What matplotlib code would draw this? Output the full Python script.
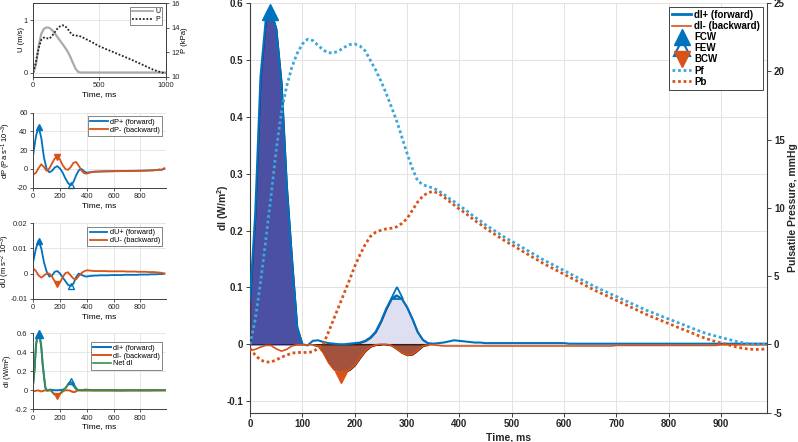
import numpy as np
import matplotlib
matplotlib.use('Agg')
import matplotlib.pyplot as plt
from matplotlib.lines import Line2D

plt.rcParams['font.family'] = ['Liberation Sans', 'DejaVu Sans']
plt.rcParams['mathtext.default'] = 'regular'
plt.rcParams['axes.unicode_minus'] = False

# ---------------- data ----------------
# main panel, sampled every 10 ms
t_main = np.arange(0, 1000, 10)
dI_fwd = np.array([
    0.08, 0.23, 0.47, 0.57, 0.585, 0.555, 0.46, 0.28, 0.15, 0.03,
    0.0, -0.002, 0.006, 0.007, 0.004, 0.002, 0.001, 0.0, 0.0, 0.001,
    0.002, 0.003, 0.006, 0.012, 0.022, 0.040, 0.062, 0.080, 0.086, 0.080,
    0.065, 0.045, 0.022, 0.008, 0.002, 0.001, 0.002, 0.003, 0.005, 0.007,
    0.006, 0.005, 0.004, 0.003, 0.003, 0.002, 0.002, 0.002, 0.002, 0.002,
    0.002, 0.002, 0.002, 0.002, 0.002, 0.002, 0.002, 0.002, 0.002, 0.002,
    0.002, 0.001, 0.001, 0.001, 0.001, 0.001, 0.001, 0.001, 0.001, 0.001,
    0.001, 0.001, 0.001, 0.001, 0.001, 0.001, 0.001, 0.001, 0.001, 0.001,
    0.001, 0.001, 0.001, 0.001, 0.001, 0.001, 0.001, 0.001, 0.001, 0.001,
    0.001, 0.001, 0.001, 0.001, 0.001, 0.001, 0.001, 0.001, 0.001, 0.001])
dI_bwd = np.array([
    -0.011, -0.009, -0.005, -0.002, -0.002, -0.008, -0.012, -0.009, -0.003, -0.001,
    -0.001, -0.001, -0.001, -0.003, -0.015, -0.032, -0.044, -0.049, -0.049, -0.045,
    -0.037, -0.024, -0.012, -0.004, -0.001, 0.0, 0.0, -0.002, -0.008, -0.015,
    -0.019, -0.018, -0.011, -0.003, -0.001, -0.001, -0.002, -0.003, -0.003, -0.003,
    -0.003, -0.003, -0.003, -0.003, -0.003, -0.003, -0.003, -0.003, -0.003, -0.003,
    -0.003, -0.003, -0.003, -0.003, -0.003, -0.003, -0.003, -0.003, -0.003, -0.003,
    -0.003, -0.003, -0.003, -0.003, -0.003, -0.003, -0.003, -0.003, -0.003, -0.003,
    -0.002, -0.002, -0.002, -0.002, -0.002, -0.002, -0.002, -0.002, -0.002, -0.002,
    -0.002, -0.002, -0.002, -0.002, -0.002, -0.002, -0.002, -0.002, -0.002, -0.002,
    -0.001, -0.001, -0.001, -0.001, -0.001, -0.001, -0.001, -0.001, -0.001, -0.001])
Pf = np.array([
    0.0, 1.8, 4.5, 7.6, 10.8, 14.2, 17.0, 18.9, 20.3, 21.3,
    22.0, 22.35, 22.25, 21.9, 21.55, 21.35, 21.35, 21.5, 21.75, 21.95,
    22.0, 21.85, 21.5, 20.8, 20.1, 19.3, 18.4, 17.4, 16.4, 15.2,
    14.0, 12.9, 12.0, 11.7, 11.55, 11.45, 11.25, 11.0, 10.7, 10.45,
    10.15, 9.9, 9.6, 9.3, 9.05, 8.75, 8.5, 8.25, 8.0, 7.75,
    7.55, 7.33, 7.1, 6.88, 6.65, 6.43, 6.2, 6.0, 5.8, 5.6,
    5.4, 5.2, 5.0, 4.8, 4.6, 4.4, 4.2, 4.02, 3.85, 3.67,
    3.5, 3.32, 3.15, 2.97, 2.8, 2.62, 2.45, 2.3, 2.15, 2.0,
    1.85, 1.7, 1.55, 1.4, 1.25, 1.1, 0.95, 0.82, 0.7, 0.6,
    0.5, 0.4, 0.3, 0.2, 0.12, 0.05, 0.0, -0.03, 0.0, 0.05])
Pb = np.array([
    -0.3, -0.8, -1.15, -1.3, -1.3, -1.15, -0.95, -0.8, -0.65, -0.6,
    -0.6, -0.6, -0.55, -0.3, 0.0, 0.9, 1.85, 2.8, 3.75, 4.7,
    5.7, 6.55, 7.3, 7.9, 8.2, 8.35, 8.45, 8.5, 8.6, 8.85,
    9.2, 9.8, 10.4, 10.85, 11.1, 11.2, 11.05, 10.8, 10.5, 10.2,
    9.9, 9.65, 9.35, 9.05, 8.8, 8.5, 8.25, 8.0, 7.75, 7.5,
    7.3, 7.06, 6.83, 6.61, 6.38, 6.16, 5.93, 5.73, 5.53, 5.33,
    5.13, 4.93, 4.73, 4.53, 4.33, 4.13, 3.93, 3.75, 3.58, 3.4,
    3.22, 3.04, 2.86, 2.68, 2.5, 2.32, 2.14, 1.98, 1.83, 1.67,
    1.52, 1.36, 1.2, 1.05, 0.9, 0.74, 0.58, 0.44, 0.31, 0.2,
    0.1, 0.0, -0.1, -0.2, -0.28, -0.34, -0.37, -0.38, -0.36, -0.32])

# wave peaks (time ms, dI)
FCW = (38, 0.585)
FEW = (280, 0.090)
BCW = (173, -0.058)

# top-left panel, every 20 ms
t_up = np.arange(0, 1001, 20)
U = np.array([
    0.0, 0.15, 0.5, 0.74, 0.84, 0.865, 0.86, 0.82, 0.76, 0.69,
    0.62, 0.55, 0.48, 0.40, 0.30, 0.18, 0.07, 0.01, 0.0, 0.0,
    0.0, 0.0, 0.0, 0.0, 0.0, 0.0, 0.0, 0.0, 0.0, 0.0,
    0.0, 0.0, 0.0, 0.0, 0.0, 0.0, 0.0, 0.0, 0.0, 0.0,
    0.0, 0.0, 0.0, 0.0, 0.0, 0.0, 0.0, 0.0, 0.0, 0.0, 0.0])
P = np.array([
    10.35, 11.2, 12.3, 13.0, 13.2, 13.15, 13.1, 13.3, 13.6, 13.9,
    14.1, 14.2, 14.15, 13.9, 13.6, 13.4, 13.35, 13.35, 13.28, 13.17,
    13.06, 12.95, 12.84, 12.72, 12.6, 12.48, 12.39, 12.3, 12.21, 12.12,
    12.03, 11.94, 11.85, 11.76, 11.67, 11.58, 11.49, 11.4, 11.3, 11.2,
    11.1, 11.0, 10.9, 10.8, 10.7, 10.6, 10.52, 10.45, 10.38, 10.32, 10.28])

# separated waves, every 20 ms
t_sep = np.arange(0, 1000, 20)
dP_fwd = np.array([
    16, 35, 45, 33, 12, 0, -3.5, -2, 1.5, 3,
    0.5, -4, -10, -15, -17.5, -14, -7, -1.5, 0, -2.5,
    -4, -3.5, -3, -2.8, -2.7, -2.6, -2.5, -2.5, -2.4, -2.4,
    -2.3, -2.3, -2.2, -2.2, -2.1, -2.1, -2.0, -2.0, -1.9, -1.9,
    -1.8, -1.8, -1.7, -1.6, -1.5, -1.4, -1.2, -0.8, -0.8, 0.2])
dP_bwd = np.array([
    -6, -4, 1, 5, 2, -2, 0.5, 6, 11, 13,
    10, 4, 0, -1, 2, 6.5, 7.5, 3.5, -1.5, -4.5,
    -5, -4, -3.3, -3.0, -2.9, -2.8, -2.7, -2.6, -2.6, -2.5,
    -2.5, -2.4, -2.4, -2.3, -2.3, -2.2, -2.2, -2.1, -2.1, -2.0,
    -2.0, -1.9, -1.8, -1.7, -1.6, -1.4, -1.2, -0.6, -1.0, 0.8])
dU_fwd = np.array([
    0.0048, 0.010, 0.013, 0.010, 0.0045, 0.0008, -0.0012, -0.0008, 0.0007, 0.001,
    0.0, -0.0015, -0.003, -0.0045, -0.005, -0.004, -0.0015, 0.0, -0.0005, -0.001,
    -0.0012, -0.001, -0.0009, -0.0008, -0.0008, -0.0007, -0.0007, -0.0007, -0.0007, -0.0006,
    -0.0006, -0.0006, -0.0006, -0.0006, -0.0005, -0.0005, -0.0005, -0.0005, -0.0005, -0.0005,
    -0.0004, -0.0004, -0.0004, -0.0004, -0.0003, -0.0003, -0.0003, -0.0002, -0.0002, 0.0])
dU_bwd = np.array([
    0.002, 0.001, -0.0008, -0.0016, -0.0008, 0.0, 0.0, -0.0012, -0.003, -0.004,
    -0.0035, -0.0015, 0.0002, 0.0005, -0.0008, -0.002, -0.0023, -0.001, 0.0002, 0.0009,
    0.0013, 0.0012, 0.0011, 0.001, 0.001, 0.001, 0.001, 0.001, 0.0009, 0.0009,
    0.0009, 0.0009, 0.0009, 0.0009, 0.0009, 0.0008, 0.0008, 0.0008, 0.0008, 0.0007,
    0.0007, 0.0007, 0.0007, 0.0006, 0.0006, 0.0006, 0.0005, 0.0004, 0.0003, 0.0])

BLUE = '#0072BD'
ORANGE = '#D95319'
LBLUE = '#3AA6DD'
GREEN = '#3B8E46'
AXC = '#404040'
GRIDC = '#e3e3e3'

fig = plt.figure(figsize=(7.98, 4.42), dpi=100)


def style(a, box=False):
    a.grid(True, color=GRIDC, lw=0.6)
    a.set_axisbelow(True)
    for s in ['left', 'bottom', 'top', 'right']:
        a.spines[s].set_color(AXC)
        a.spines[s].set_linewidth(0.7)
    if not box:
        a.spines['top'].set_visible(False)
        a.spines['right'].set_visible(False)
    a.tick_params(direction='out', length=2.5, width=0.6, labelsize=5.5,
                  colors=AXC, labelcolor='#262626', pad=1.5)


# ---------------- main panel ----------------
ax = fig.add_axes([0.3133, 0.0667, 0.6479, 0.9265])
ax.grid(True, color=GRIDC, lw=0.7)
ax.set_axisbelow(True)
m = t_main <= 100
ax.fill_between(t_main[m], 0, dI_fwd[m], facecolor='#4b50a2', edgecolor='#1d2250', lw=1, zorder=2)
m = (t_main >= 200) & (t_main <= 340)
ax.fill_between(t_main[m], 0, dI_fwd[m], facecolor='#dedff0', edgecolor='#1f3f6e', lw=1.2, zorder=2)
m = (t_main >= 120) & (t_main <= 250)
ax.fill_between(t_main[m], 0, dI_bwd[m], facecolor='#a3533d', edgecolor='#3d1a10', lw=1, zorder=2)
m = (t_main >= 260) & (t_main <= 340)
ax.fill_between(t_main[m], 0, dI_bwd[m], facecolor='#a3533d', edgecolor='#3d1a10', lw=1, zorder=2)
ax.plot(t_main, dI_fwd, color=BLUE, lw=1.5, zorder=3)
ax.plot(t_main, dI_bwd, color=ORANGE, lw=1.2, zorder=3)
ax.plot(*FCW, marker='^', color=BLUE, ms=11, clip_on=False, zorder=4)
ax.plot(*FEW, marker='^', mfc='none', mec=BLUE, mew=1.3, ms=8, zorder=4)
ax.plot(*BCW, marker='v', color=ORANGE, ms=8, zorder=4)
ax.set_xlim(0, 988)
ax.set_ylim(-0.12, 0.6)
ax.set_xticks(np.arange(0, 901, 100))
ax.set_yticks([-0.1, 0, 0.1, 0.2, 0.3, 0.4, 0.5, 0.6])
ax.set_yticklabels(['-0.1', '0', '0.1', '0.2', '0.3', '0.4', '0.5', '0.6'])
ax.spines['top'].set_visible(False)
ax.spines['right'].set_visible(False)
for s in ['left', 'bottom']:
    ax.spines[s].set_color(AXC)
    ax.spines[s].set_linewidth(0.8)
ax.tick_params(direction='out', length=3, width=0.7, labelsize=7, colors=AXC,
               labelcolor='#262626', pad=2)
for lb in ax.get_xticklabels() + ax.get_yticklabels():
    lb.set_fontweight('bold')
ax.set_xlabel('Time, ms', fontsize=7.5, fontweight='bold', color='#262626', labelpad=2)
ax.set_ylabel('dI (W/m$^2$)', fontsize=7.5, fontweight='bold', color='#262626')
ax.yaxis.set_label_coords(-0.037, 0.5)

ax2 = ax.twinx()
ax2.plot(t_main, Pf, color=LBLUE, lw=2, ls=(0, (1, 1)))
ax2.plot(t_main, Pb, color=ORANGE, lw=2, ls=(0, (1, 1)))
ax2.set_ylim(-5, 25)
ax2.set_yticks([-5, 0, 5, 10, 15, 20, 25])
ax2.spines['top'].set_visible(False)
ax2.spines['left'].set_visible(False)
ax2.spines['bottom'].set_visible(False)
ax2.spines['right'].set_color(AXC)
ax2.spines['right'].set_linewidth(0.8)
ax2.tick_params(direction='out', length=3, width=0.7, labelsize=7, colors=AXC,
                labelcolor='#262626', pad=2)
for lb in ax2.get_yticklabels():
    lb.set_fontweight('bold')
ax2.set_ylabel('Pulsatile Pressure, mmHg', fontsize=7.5, fontweight='bold', color='#262626', labelpad=2)

handles = [
    Line2D([], [], color=BLUE, lw=2),
    Line2D([], [], color=ORANGE, lw=1.2),
    Line2D([], [], ls='none', marker='^', color=BLUE, ms=11),
    Line2D([], [], ls='none', marker='^', mfc='none', mec=BLUE, mew=1.5, ms=11),
    Line2D([], [], ls='none', marker='v', color=ORANGE, ms=11),
    Line2D([], [], color=LBLUE, lw=2, ls=(0, (1, 1))),
    Line2D([], [], color=ORANGE, lw=2, ls=(0, (1, 1))),
]
labels = ['dI+ (forward)', 'dI- (backward)', 'FCW', 'FEW', 'BCW', 'Pf', 'Pb']
leg = ax2.legend(handles, labels, loc='upper right', frameon=True, fancybox=False,
                 edgecolor='#262626', framealpha=1, borderaxespad=0.4, handlelength=2.0,
                 labelspacing=0.12, borderpad=0.3, handletextpad=0.3,
                 prop={'weight': 'bold', 'size': 7})
leg.get_frame().set_linewidth(0.6)

# ---------------- left panels ----------------
L, W = 0.0417, 0.1659
LBL = 5.5
LEGKW = dict(loc='upper right', fontsize=5.3, fancybox=False, edgecolor='#555555', framealpha=1,
             handlelength=2.4, borderpad=0.3, labelspacing=0.1, handletextpad=0.3)

# U and P
a1 = fig.add_axes([L, 0.8265, W, 0.1661])
style(a1, box=True)
a1.plot(t_up, U, color='#aaaaaa', lw=1.6, label='U')
a1.set_xlim(0, 1000)
a1.set_ylim(-0.08, 1.33)
a1.set_yticks([0, 1])
a1.set_xticks([0, 500, 1000])
a1.set_ylabel('U (m/s)', fontsize=LBL)
a1.yaxis.set_label_coords(-0.06, 0.5)
a1.set_xlabel('Time, ms', fontsize=6, labelpad=1)
a1b = a1.twinx()
a1b.plot(t_up, P, color='#222222', lw=1.3, ls=(0, (1, 1)), label='P')
a1b.set_ylim(10, 16)
a1b.set_yticks([10, 12, 14, 16])
a1b.tick_params(direction='out', length=2.5, width=0.6, labelsize=5.5, colors=AXC,
                labelcolor='#262626', pad=1.5)
for s in a1b.spines.values():
    s.set_color(AXC)
    s.set_linewidth(0.7)
a1b.set_ylabel('P (kPa)', fontsize=LBL, labelpad=1)
h1 = [Line2D([], [], color='#aaaaaa', lw=1.3), Line2D([], [], color='#222222', lw=1.3, ls=(0, (1, 1)))]
lg = a1b.legend(h1, ['U', 'P'], loc='upper right', fontsize=5, fancybox=False, edgecolor='#555555',
                framealpha=1, handlelength=3.0, borderpad=0.25, labelspacing=0.1, handletextpad=0.4,
                borderaxespad=0.5)
lg.get_frame().set_linewidth(0.5)

# dP
a2 = fig.add_axes([L, 0.5753, W, 0.1697])
style(a2)
a2.plot(t_sep, dP_fwd, color=BLUE, lw=1.3, label='dP+ (forward)')
a2.plot(t_sep, dP_bwd, color=ORANGE, lw=1.3, label='dP- (backward)')
a2.plot(40, 45, marker='^', color=BLUE, ms=5)
a2.plot(180, 13, marker='v', color=ORANGE, ms=5)
a2.plot(280, -17.5, marker='^', mfc='none', mec=BLUE, mew=1, ms=5, clip_on=False)
a2.set_xlim(0, 990)
a2.set_ylim(-20, 60)
a2.set_xticks([0, 200, 400, 600, 800])
a2.set_yticks([-20, 0, 20, 40, 60])
a2.set_ylabel('dP (Pa s$^{-1}$ 10$^{-3}$)', fontsize=LBL)
a2.yaxis.set_label_coords(-0.15, 0.5)
a2.set_xlabel('Time, ms', fontsize=6, labelpad=1)
lg = a2.legend(borderaxespad=0.5, **LEGKW)
lg.get_frame().set_linewidth(0.5)

# dU
a3 = fig.add_axes([L, 0.3242, W, 0.1706])
style(a3)
a3.plot(t_sep, dU_fwd, color=BLUE, lw=1.3, label='dU+ (forward)')
a3.plot(t_sep, dU_bwd, color=ORANGE, lw=1.3, label='dU- (backward)')
a3.plot(40, 0.013, marker='^', color=BLUE, ms=5)
a3.plot(180, -0.004, marker='v', color=ORANGE, ms=5)
a3.plot(280, -0.005, marker='^', mfc='none', mec=BLUE, mew=1, ms=5)
a3.set_xlim(0, 990)
a3.set_ylim(-0.01, 0.02)
a3.set_xticks([0, 200, 400, 600, 800])
a3.set_yticks([-0.01, 0, 0.01, 0.02])
a3.set_yticklabels(['-0.01', '0', '0.01', '0.02'])
a3.set_ylabel('dU (m s$^{-2}$ 10$^{-3}$)', fontsize=LBL)
a3.yaxis.set_label_coords(-0.16, 0.5)
a3.set_xlabel('Time, ms', fontsize=6, labelpad=1)
lg = a3.legend(borderaxespad=0.5, **LEGKW)
lg.get_frame().set_linewidth(0.5)

# dI
a4 = fig.add_axes([L, 0.0740, W, 0.1719])
style(a4)
a4.plot(t_main, dI_fwd, color=BLUE, lw=1.4, label='dI+ (forward)')
a4.plot(t_main, dI_bwd, color=ORANGE, lw=1.4, label='dI- (backward)')
a4.plot(t_main, dI_fwd + dI_bwd, color=GREEN, lw=1.2, label='Net dI')
a4.plot(40, 0.59, marker='^', color=BLUE, ms=6, clip_on=False)
a4.plot(175, -0.055, marker='v', color=ORANGE, ms=5)
a4.plot(280, 0.1, marker='^', mfc='none', mec=BLUE, mew=1, ms=5)
a4.set_xlim(0, 990)
a4.set_ylim(-0.2, 0.6)
a4.set_xticks([0, 200, 400, 600, 800])
a4.set_yticks([-0.2, 0, 0.2, 0.4, 0.6])
a4.set_yticklabels(['-0.2', '0', '0.2', '0.4', '0.6'])
a4.set_ylabel('dI (W/m$^2$)', fontsize=LBL)
a4.yaxis.set_label_coords(-0.14, 0.5)
a4.set_xlabel('Time, ms', fontsize=6, labelpad=1)
lg = a4.legend(bbox_to_anchor=(1.0, 0.93), **LEGKW)
lg.get_frame().set_linewidth(0.5)

fig.savefig('out.png', dpi=100)
